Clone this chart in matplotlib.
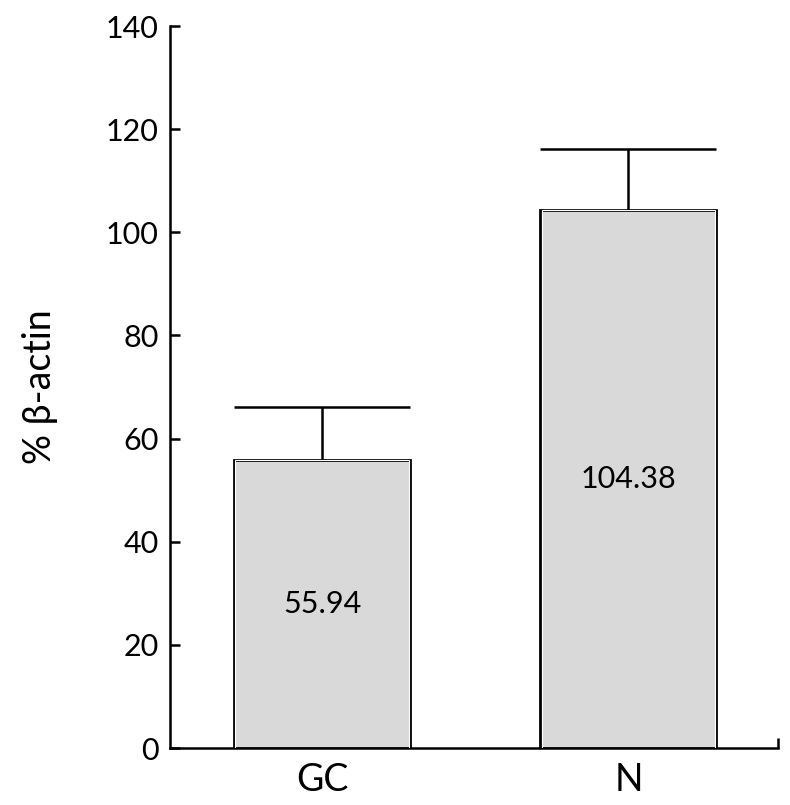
import matplotlib
matplotlib.use("Agg")
import matplotlib.pyplot as plt
import numpy as np

plt.rcParams["font.family"] = ["Lato", "Open Sans", "DejaVu Sans"]

categories = ["GC", "N"]
values = [55.94, 104.38]
errors = [10.2, 11.7]
value_labels = ["55.94", "104.38"]
y_ticks = [0, 20, 40, 60, 80, 100, 120, 140]

x = np.arange(len(categories))
width = 0.574

fig = plt.figure(figsize=(7.9, 8.05), dpi=100)
ax = fig.add_axes([0.2152, 0.0708, 0.7696, 0.8969])

ax.bar(x, values, width=width, color="#d9d9d9", edgecolor="black", linewidth=2, zorder=2)
ax.bar(x, values, width=width * 0.985, color="none", edgecolor="white", linewidth=0.8, zorder=3)

tops = np.array(values) + np.array(errors)
ax.vlines(x, values, tops, color="black", linewidth=1.8, zorder=1)
ax.hlines(tops, x - width / 2, x + width / 2, color="black", linewidth=1.8, zorder=1)

for xi, v, lab in zip(x, values, value_labels):
    ax.text(xi, v / 2, lab, ha="center", va="center", fontsize=22, zorder=4)

ax.set_xlim(-0.496, 1.488)
ax.set_ylim(0, 140)
ax.set_yticks(y_ticks)
ax.tick_params(axis="y", direction="in", length=7, width=1.8, labelsize=22, pad=8)
ax.set_xticks([1.488])
ax.set_xticklabels([""])
ax.tick_params(axis="x", direction="in", length=7, width=1.8)
for xi, c in zip(x, categories):
    ax.text(xi, -2.8, c, ha="center", va="top", fontsize=27, transform=ax.transData)

ax.set_ylabel("% β-actin", fontsize=27)
ax.yaxis.set_label_coords(-0.185, 0.5)

for s in ["top", "right"]:
    ax.spines[s].set_visible(False)
for s in ["left", "bottom"]:
    ax.spines[s].set_linewidth(1.8)

fig.savefig("out.png", dpi=100)
plt.close(fig)
